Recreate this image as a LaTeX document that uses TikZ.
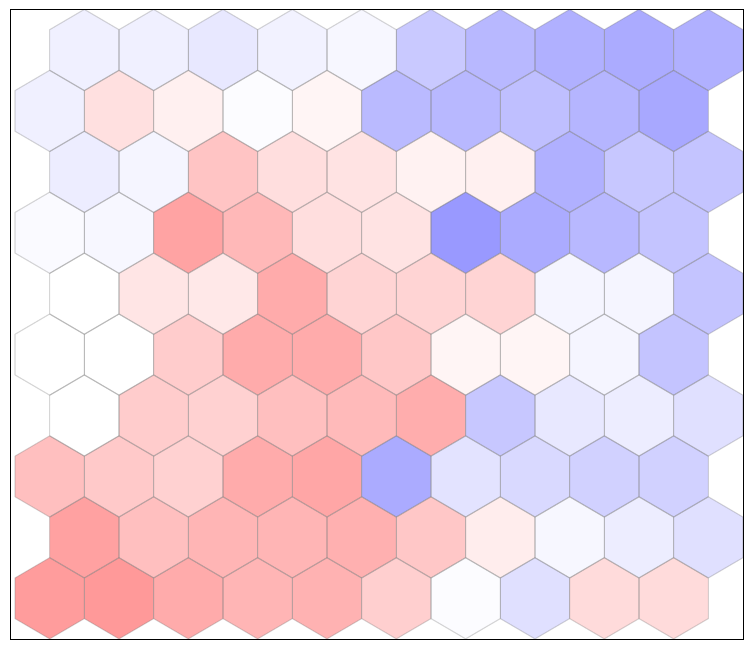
\documentclass[tikz,border=0pt]{standalone}
\begin{document}
\begin{tikzpicture}[
    x = 1pt,
    y = 1pt,
    cellfill/.style = {fill=\tint!\pct!white},
    celledge/.style = {draw=black!50, draw opacity=0.32, line width=1.1pt,
    line join=round},
    frame/.style = {draw=black, line width=1pt},
]

\useasboundingbox (0,0) rectangle (753,649);

% signed shade per cell: > 0 red, < 0 blue, row 0 on top
\def\cellrows{
    0/{-6,-6,-9,-5,-3,-21,-28,-31,-33,-31},
    1/{-6,12,6,-1,4,-27,-28,-25,-29,-34},
    2/{-7,-4,23,13,11,5,6,-31,-22,-23},
    3/{-2,-3,36,28,13,11,-40,-33,-28,-23},
    4/{0,10,9,33,17,17,17,-4,-4,-23},
    5/{0,0,20,33,33,22,4,4,-4,-23},
    6/{0,20,18,25,27,32,-22,-9,-7,-12},
    7/{25,21,18,33,35,-33,-11,-15,-18,-18},
    8/{37,25,29,29,31,22,7,-3,-7,-12},
    9/{39,40,33,29,30,19,-1,-12,14,14}}

\begin{scope}
\clip (10,10) rectangle (743.3,639);
\foreach \layer in {cellfill,celledge}{
    \foreach \row/\vals in \cellrows{
        \foreach \v [count=\col from 0] in \vals{
            \pgfmathsetmacro{\cx}{49.67 + 69.33*\col + 34.67*(1-mod(\row,2))}
            \pgfmathsetmacro{\cy}{599 - 60.92*\row}
            \pgfmathtruncatemacro{\pct}{abs(\v)}
            \ifnum\v<0 \def\tint{blue}\else\def\tint{red}\fi
            \path[shift={(\cx,\cy)}, \layer] (0,40.6) -- (34.67,20.3)
                -- (34.67,-20.3) -- (0,-40.6) -- (-34.67,-20.3)
                -- (-34.67,20.3) -- cycle;
        }
    }
}
\end{scope}

\draw [frame] (10,10) rectangle (743.3,639);

\end{tikzpicture}
\end{document}
